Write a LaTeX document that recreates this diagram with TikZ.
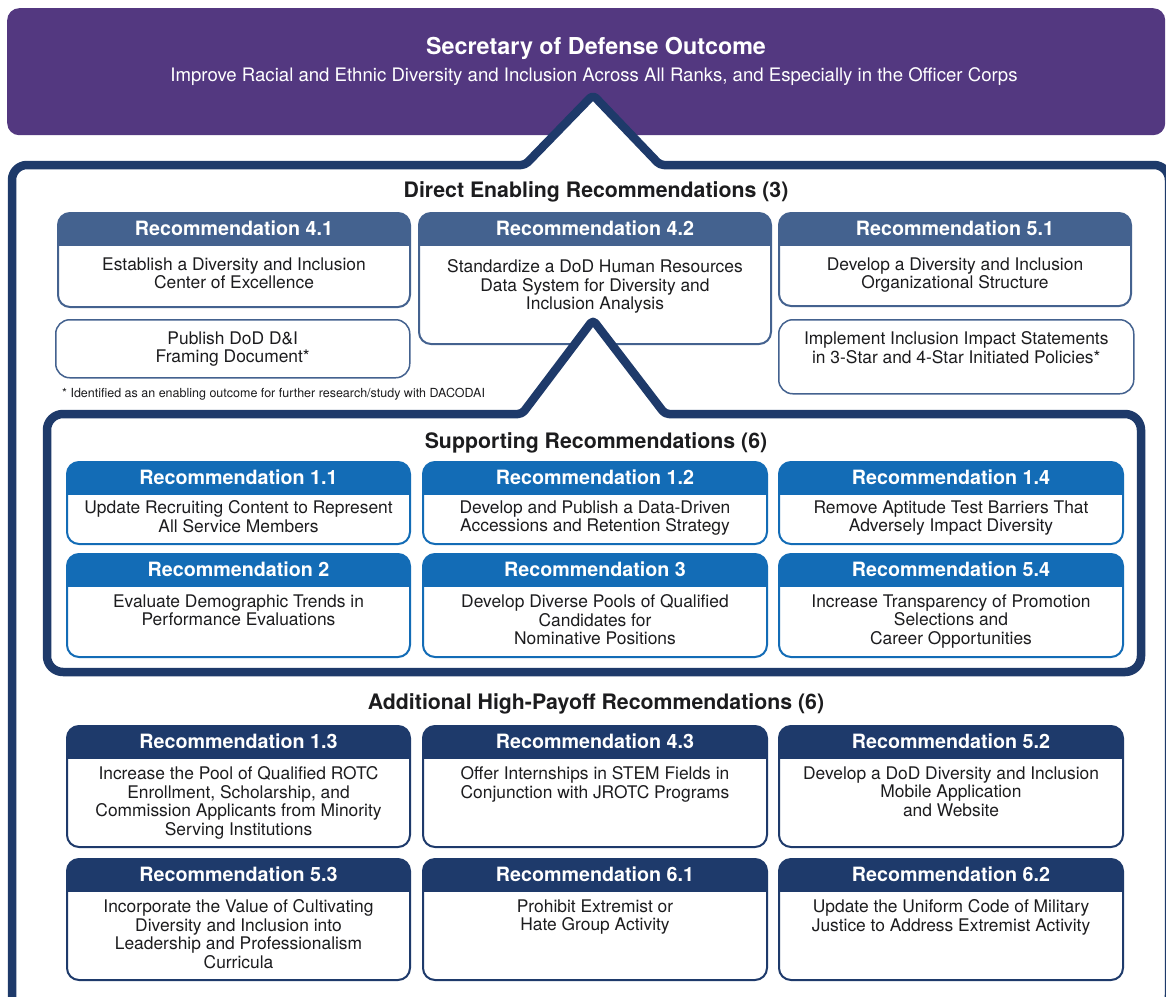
\documentclass[tikz,border=0pt]{standalone}
\usepackage{fontspec}
\setmainfont{TeX Gyre Heros}
\definecolor{secpurple}{RGB}{83,56,128}
\definecolor{navy}{RGB}{30,58,106}
\definecolor{slate}{RGB}{68,98,143}
\definecolor{supblue}{RGB}{19,108,182}
\definecolor{addnavy}{RGB}{30,58,107}
\definecolor{txt}{RGB}{28,28,30}
\newcommand{\recbox}[9]{%
  \node[recframe=#2, minimum width=#5pt, minimum height=#6pt, anchor=north west,
        path picture={\fill[#2, sharp corners] (path picture bounding box.north west) rectangle ([yshift=-33pt]path picture bounding box.north east);}]
        (#1) at (#3,#4) {};
  \node[headtext] (#1h) at ([yshift=-16.5pt]#1.north) {#7};
  \node[bodytext, anchor=north] (#1b) at ([yshift=-#9pt]#1.north) {#8};
}
\begin{document}
\begin{tikzpicture}[x=1pt,y=-1pt,
  recframe/.style={draw=#1, line width=2pt, rounded corners=12pt, fill=white, inner sep=0pt},
  plainbox/.style={draw=slate, line width=1.5pt, rounded corners=14pt, fill=white, inner sep=0pt, anchor=north west},
  headtext/.style={text=white, font=\fontsize{19.7}{22}\selectfont\bfseries, inner sep=0pt},
  bodytext/.style={align=center, font=\fontsize{17.4}{18.5}\selectfont, inner sep=0pt, text=txt},
  sectitle/.style={font=\fontsize{21.3}{24}\selectfont\bfseries, text=txt, inner sep=0pt},
  bigframe/.style={draw=navy, line width=8.5pt, fill=white, line join=round},
  note/.style={font=\fontsize{12.5}{14}\selectfont, text=txt, inner sep=0pt, anchor=west}
]
\useasboundingbox (0,0) rectangle (1166,996);

% Secretary of Defense outcome
\node[fill=secpurple, rounded corners=12pt, minimum width=1158pt, minimum height=127pt, anchor=north west, inner sep=0pt] (sec) at (7,8) {};

% outer frame
\filldraw[bigframe] (12,1010) [rounded corners=15pt] -- (12,165) -- (300,165) [rounded corners=4pt] -- (525,165) -- (593,95) -- (660,165) -- (900,165) [rounded corners=15pt] -- (1169,165) -- (1169,1010) -- cycle;

\node[text=white, font=\fontsize{23.3}{26}\selectfont\bfseries, inner sep=0pt] (sectitle) at (596,48) {Secretary of Defense Outcome};
\node[text=white, font=\fontsize{18.6}{21}\selectfont, inner sep=0pt] (secsub) at (594,77) {Improve Racial and Ethnic Diversity and Inclusion Across All Ranks, and Especially in the Officer Corps};

% Direct enabling
\node[sectitle] (dtitle) at (596,191.5) {Direct Enabling Recommendations (3)};
\recbox{r41}{slate}{57}{212}{352}{94}{Recommendation 4.1}{Establish a Diversity and Inclusion\\Center of Excellence}{45.5}
\recbox{r42}{slate}{418}{212}{352}{131}{Recommendation 4.2}{Standardize a DoD Human Resources\\Data System for Diversity and\\Inclusion Analysis}{47.5}
\recbox{r51}{slate}{778}{212}{352}{93}{Recommendation 5.1}{Develop a Diversity and Inclusion\\Organizational Structure}{45.5}

\node[plainbox, minimum width=354pt, minimum height=58pt] (pub) at (55,319) {};
\node[bodytext, anchor=north] (pubt) at ([yshift=-12.5pt]pub.north) {Publish DoD D\&I\\Framing Document*};
\node[plainbox, minimum width=355pt, minimum height=74pt] (imp) at (778,319) {};
\node[bodytext, anchor=north] (impt) at ([yshift=-12.5pt]imp.north) {Implement Inclusion Impact Statements\\in 3-Star and 4-Star Initiated Policies*};

\node[note] (fn) at (62,394) {* Identified as an enabling outcome for further research/study with DACODAI};

% supporting frame
\filldraw[bigframe] (300,414) [rounded corners=16pt] -- (47,414) -- (47,672) -- (1141,672) -- (1141,414) -- (900,414) [rounded corners=4pt] -- (665,414) -- (593,320) -- (522,414) -- cycle;

\node[sectitle] (stitle) at (596,442.5) {Supporting Recommendations (6)};
\recbox{r11}{supblue}{66}{461}{343}{82}{Recommendation 1.1}{Update Recruiting Content to Represent\\All Service Members}{39.5}
\recbox{r12}{supblue}{422}{461}{344}{82}{Recommendation 1.2}{Develop and Publish a Data-Driven\\Accessions and Retention Strategy}{39.5}
\recbox{r14}{supblue}{778}{461}{344}{82}{Recommendation 1.4}{Remove Aptitude Test Barriers That\\Adversely Impact Diversity}{39.5}
\recbox{r2}{supblue}{66}{553}{343}{103}{Recommendation 2}{Evaluate Demographic Trends in\\Performance Evaluations}{41.5}
\recbox{r3}{supblue}{422}{553}{344}{103}{Recommendation 3}{Develop Diverse Pools of Qualified\\Candidates for\\Nominative Positions}{41.5}
\recbox{r54}{supblue}{778}{553}{344}{103}{Recommendation 5.4}{Increase Transparency of Promotion\\Selections and\\Career Opportunities}{41.5}

% additional
\node[sectitle] (atitle) at (596,703.5) {Additional High-Payoff Recommendations (6)};
\recbox{r13}{addnavy}{66}{725}{343}{121}{Recommendation 1.3}{Increase the Pool of Qualified ROTC\\Enrollment, Scholarship, and\\Commission Applicants from Minority\\Serving Institutions}{41.5}
\recbox{r43}{addnavy}{422}{725}{344}{121}{Recommendation 4.3}{Offer Internships in STEM Fields in\\Conjunction with JROTC Programs}{41.5}
\recbox{r52}{addnavy}{778}{725}{344}{121}{Recommendation 5.2}{Develop a DoD Diversity and Inclusion\\Mobile Application\\and Website}{41.5}
\recbox{r53}{addnavy}{66}{858}{343}{121}{Recommendation 5.3}{Incorporate the Value of Cultivating\\Diversity and Inclusion into\\Leadership and Professionalism\\Curricula}{41.5}
\recbox{r61}{addnavy}{422}{858}{344}{121}{Recommendation 6.1}{Prohibit Extremist or\\Hate Group Activity}{41.5}
\recbox{r62}{addnavy}{778}{858}{344}{121}{Recommendation 6.2}{Update the Uniform Code of Military\\Justice to Address Extremist Activity}{41.5}
\end{tikzpicture}
\end{document}
